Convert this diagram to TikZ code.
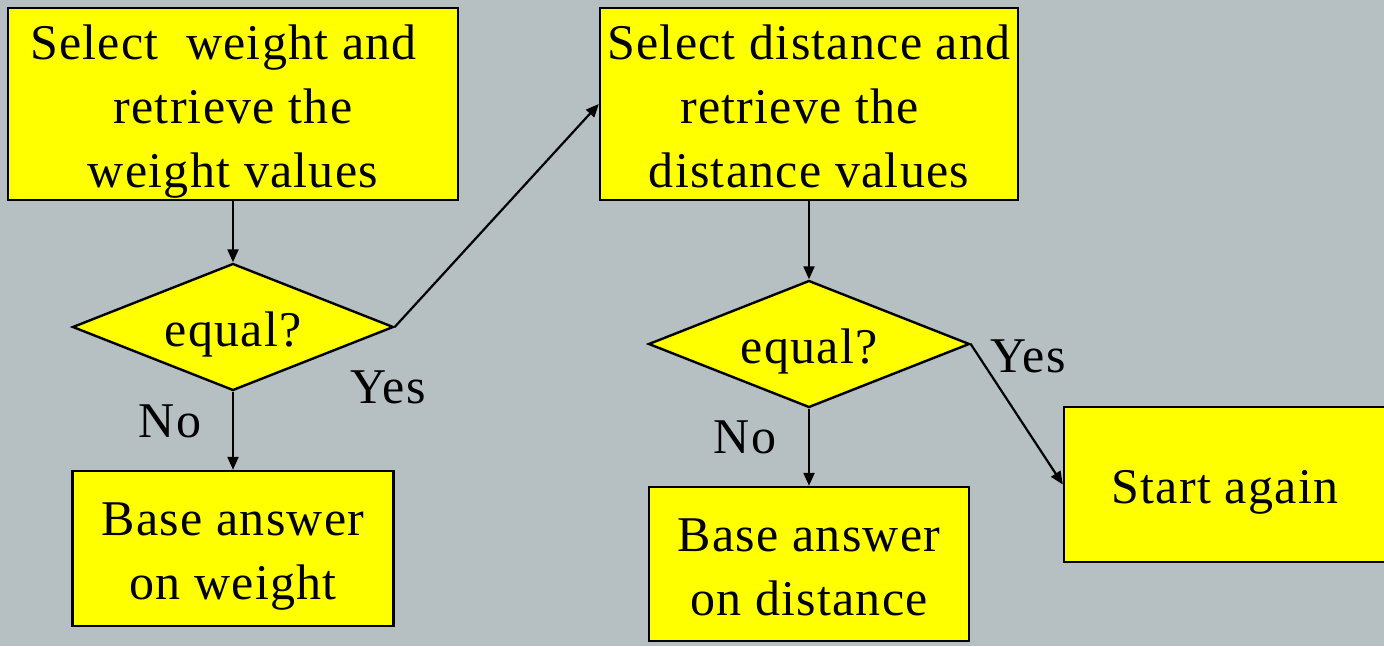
\documentclass[tikz,border=0pt]{standalone}
\usepackage{fontspec}
\setmainfont{Liberation Serif}[LetterSpace=2.5]
\usetikzlibrary{shapes.geometric,arrows.meta}
\definecolor{bg}{RGB}{182,192,194}
\definecolor{boxyellow}{RGB}{255,255,0}
\newcommand{\ls}{\rule[-13pt]{0pt}{64pt}}
\newcommand{\trail}{\rule{19pt}{0pt}}
\tikzset{
  bigfont/.style={font=\fontsize{50}{64}\selectfont},
  procbox/.style={draw=black, line width=2.4pt, fill=boxyellow, inner sep=0pt, align=center, bigfont},
  decide/.style={diamond, draw=black, line width=2.4pt, fill=boxyellow, inner sep=0pt, aspect=2.5,
                 minimum width=321pt, minimum height=127pt, bigfont},
  conn/.style={-{Triangle[length=13pt,width=11pt]}, line width=2.2pt},
  lbl/.style={inner sep=0pt, anchor=base, bigfont}
}
\begin{document}
\begin{tikzpicture}[x=1pt,y=-1pt]
\useasboundingbox (0,0) rectangle (1384,646);
\fill[bg] (0,0) rectangle (1384,646);
\clip (0,0) rectangle (1384,646);

\node[procbox, minimum width=450pt, minimum height=192pt] (A) at (233,104)
  {\ls Select\ \ weight and\trail\\\ls retrieve the\\\ls weight values};
\node[decide] (D1) at (233,327) {\ls equal?};
\node[procbox, minimum width=321pt, minimum height=155pt] (C) at (233,548.5)
  {\ls Base answer\\\ls on weight};

\node[procbox, minimum width=418pt, minimum height=192pt] (B) at (809,104)
  {\ls Select distance and\\\ls retrieve the\trail\\\ls distance values};
\node[decide] (D2) at (809,344) {\ls equal?};
\node[procbox, minimum width=320pt, minimum height=154pt] (E) at (809,564)
  {\ls Base answer\\\ls on distance};

\node[procbox, minimum width=322pt, minimum height=155pt] (F) at (1225,484.5)
  {\ls Start again};

\node[lbl] (no1) at (170,437) {No};
\node[lbl] (yes1) at (388,403) {Yes};
\node[lbl] (no2) at (745,453) {No};
\node[lbl] (yes2) at (1028,372) {Yes};

\draw[conn] (A.south) -- (D1.north);
\draw[conn] (D1.south) -- (C.north);
\draw[conn] (D1.east) -- (B.west);
\draw[conn] (B.south) -- (D2.north);
\draw[conn] (D2.south) -- (E.north);
\draw[conn] (D2.east) -- (F.west);
\end{tikzpicture}
\end{document}
